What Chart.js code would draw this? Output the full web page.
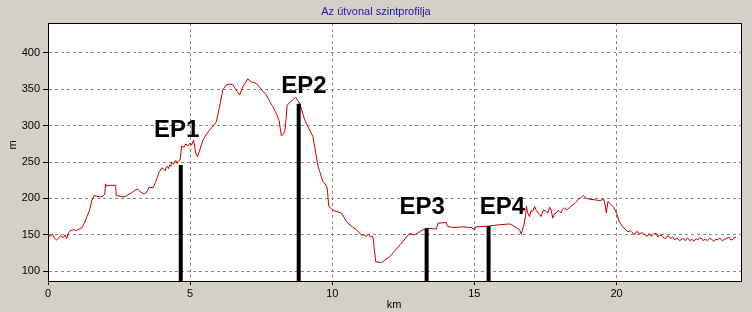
<!DOCTYPE html>
<html><head><meta charset="utf-8">
<script src="https://cdn.jsdelivr.net/npm/chart.js@4/dist/chart.umd.min.js"></script>
<style>html,body{margin:0;padding:0;background:#d4d0c8;}canvas{display:block;}</style>
</head><body>
<canvas id="c" width="752" height="312"></canvas>
<script>
const chartTitle = "Az útvonal szintprofilja";
const xTitle = "km";
const yTitle = "m";
const xTicks = [0, 5, 10, 15, 20];
const yTicks = [100, 150, 200, 250, 300, 350, 400];
const xRange = [0, 24.38];
const yRange = [86.7, 440.8];

const distKm = [
  0.00,0.08,0.15,0.22,0.30,0.38,0.45,0.52,0.60,0.66,0.72,0.80,0.90,1.00,1.10,1.20,1.30,1.38,1.46,1.55,1.62,1.72,1.85,1.95,2.00,2.02,2.05,2.20,2.38,2.40,2.55,2.70,2.85,2.95,3.05,3.15,3.25,3.38,3.48,3.55,3.70,
  3.78,3.85,3.90,3.95,4.00,4.05,4.12,4.16,4.20,4.24,4.28,4.32,4.35,4.42,4.46,4.50,4.54,4.58,4.65,
  4.70,4.78,4.85,4.92,5.00,5.05,5.12,5.20,5.26,5.35,5.45,5.55,5.69,5.80,5.92,6.03,6.15,6.27,6.40,6.50,6.60,6.74,6.85,7.03,7.15,7.33,7.50,7.68,7.80,7.91,8.05,8.13,8.21,8.28,8.33,8.38,8.41,8.55,8.71,8.85,9.03,9.15,9.32,9.42,9.50,9.56,9.67,9.75,9.82,9.88,10.02,10.15,10.32,10.42,10.50,10.67,10.85,11.02,11.10,11.20,11.28,11.35,11.43,11.53,11.73,12.02,12.40,12.72,12.90,13.10,13.31,13.66,13.72,14.01,14.05,14.25,14.60,14.89,15.00,15.05,15.50,15.89,16.24,16.40,16.59,16.65,
  16.75,16.80,16.83,16.88,16.94,17.00,17.05,17.12,17.18,17.25,17.30,17.35,17.42,17.50,17.58,17.65,17.70,17.76,17.82,17.88,17.95,18.00,18.05,18.10,18.18,18.25,18.30,18.35,18.42,18.50,18.58,18.64,18.70,18.75,18.80,18.84,18.90,18.95,
  19.05,19.25,19.41,19.55,19.60,19.64,19.70,19.76,19.90,20.00,20.10,20.22,20.30,20.40,20.48,20.55,20.65,20.72,20.81,20.90,21.00,21.08,21.15,21.22,21.30,21.40,21.45,21.52,21.60,21.68,21.75,21.82,21.90,21.97,22.05,22.12,22.22,22.30,22.35,22.42,22.50,22.58,22.65,22.72,22.80,22.86,22.92,23.00,23.05,23.12,23.20,23.28,23.35,23.42,23.50,23.56,23.63,23.72,23.80,23.88,23.95,24.02,24.10,24.16,24.20,24.27,24.33
];
const elevationM = [
  150,148,151,146,143,146,149,146,150,145,153,156,157,156,158,160,168,176,184,198,204,203,202,204,206,220,217,218,218,204,203,202,206,208,211,213,209,206,209,215,215,
  222,229,236,238,242,241,238,243,244,241,246,244,250,247,251,252,248,251,253,
  272,270,275,272,276,273,280,262,257,268,280,287,294,299,305,325,349,356,357,356,350,342,353,364,360,358,350,342,333,326,315,307,286,288,292,310,328,333,339,331,308,298,285,262,244,237,223,220,215,189,184,182,180,174,168,162,157,150,150,148,151,147,148,113,112,120,137,152,150,155,159,158,166,167,162,160,161,160,157,161,162,164,165,162,157,151,
  165,176,189,180,175,184,182,189,183,180,178,175,184,183,180,188,184,173,179,180,184,182,180,185,187,184,186,187,190,192,195,198,200,201,203,204,201,200,
  199,198,197,199,191,180,196,193,188,180,168,161,158,154,156,153,151,155,151,153,150,148,152,148,151,152,147,150,149,145,146,149,145,147,143,146,142,144,145,142,146,142,144,141,145,143,146,145,142,144,142,145,144,141,144,143,146,142,144,145,147,143,144,147,146
];

const epNames = ["EP1", "EP2", "EP3", "EP4"];
const epKm = [4.67, 8.82, 13.32, 15.50];
const epTopM = [246, 330, 159, 162];
const epLabelKm = [4.53, 9.00, 13.16, 15.99];
const epLabelM = [284, 345, 178.6, 178.6];

const profile = distKm.map((x, i) => ({x, y: elevationM[i]}));
const epSets = epNames.map((n, i) => ({
  label: n,
  data: [{x: epKm[i], y: yRange[0]}, {x: epKm[i], y: epTopM[i]}],
  borderColor: '#000', borderWidth: 4, pointRadius: 0, borderCapStyle: 'butt', order: 0
}));

const FONT = '"Liberation Sans", Arial, sans-serif';

const deco = {
  id: 'deco',
  beforeDraw(c) {
    const ctx = c.ctx, a = c.chartArea;
    ctx.save();
    ctx.fillStyle = '#d4d0c8';
    ctx.fillRect(0, 0, c.width, c.height);
    ctx.fillStyle = '#fff';
    ctx.fillRect(a.left, a.top, a.right - a.left, a.bottom - a.top);
    ctx.restore();
  },
  afterDraw(c) {
    const ctx = c.ctx, a = c.chartArea;
    const xs = c.scales.x, ys = c.scales.y;
    ctx.save();
    ctx.strokeStyle = '#000'; ctx.lineWidth = 1;
    ctx.strokeRect(Math.round(a.left) + 0.5, Math.round(a.top) + 0.5, Math.round(a.right - a.left), Math.round(a.bottom - a.top));
    ctx.fillStyle = '#1a1aa8';
    ctx.font = '11px ' + FONT;
    ctx.textAlign = 'center'; ctx.textBaseline = 'middle';
    ctx.fillText(chartTitle, 376, 12);
    ctx.fillStyle = '#000';
    ctx.fillText(xTitle, 394, 305);
    ctx.save();
    ctx.translate(13, 145); ctx.rotate(-Math.PI / 2);
    ctx.fillText(yTitle, 0, 0);
    ctx.restore();
    ctx.font = 'bold 24px ' + FONT;
    ctx.textBaseline = 'alphabetic';
    epNames.forEach((n, i) => {
      ctx.fillText(n, xs.getPixelForValue(epLabelKm[i]), ys.getPixelForValue(epLabelM[i]));
    });
    ctx.restore();
  }
};

new Chart(document.getElementById('c'), {
  type: 'line',
  data: {
    datasets: [{
      label: 'profile', data: profile, borderColor: '#cc0000', borderWidth: 1,
      pointRadius: 0, tension: 0, order: 1
    }, ...epSets]
  },
  options: {
    responsive: false, animation: false, devicePixelRatio: 1,
    layout: {padding: {top: 23, right: 11, left: 0, bottom: 0}},
    plugins: {legend: {display: false}, tooltip: {enabled: false}, title: {display: false}},
    scales: {
      x: {
        type: 'linear', min: xRange[0], max: xRange[1],
        afterBuildTicks: s => { s.ticks = xTicks.map(v => ({value: v})); },
        afterFit: s => { s.height = 31; },
        grid: {color: '#888', tickColor: '#000', tickLength: 4, tickBorderDash: []},
        border: {display: true, color: '#000', dash: [3, 3]},
        ticks: {color: '#000', font: {family: FONT, size: 11}, padding: 2, maxRotation: 0}
      },
      y: {
        type: 'linear', min: yRange[0], max: yRange[1],
        afterBuildTicks: s => { s.ticks = yTicks.map(v => ({value: v})); },
        afterFit: s => { s.width = 48; },
        grid: {color: '#888', tickColor: '#000', tickLength: 5, tickBorderDash: []},
        border: {display: true, color: '#000', dash: [3, 3]},
        ticks: {color: '#000', font: {family: FONT, size: 11}, padding: 3}
      }
    }
  },
  plugins: [deco]
});
</script>
</body></html>
